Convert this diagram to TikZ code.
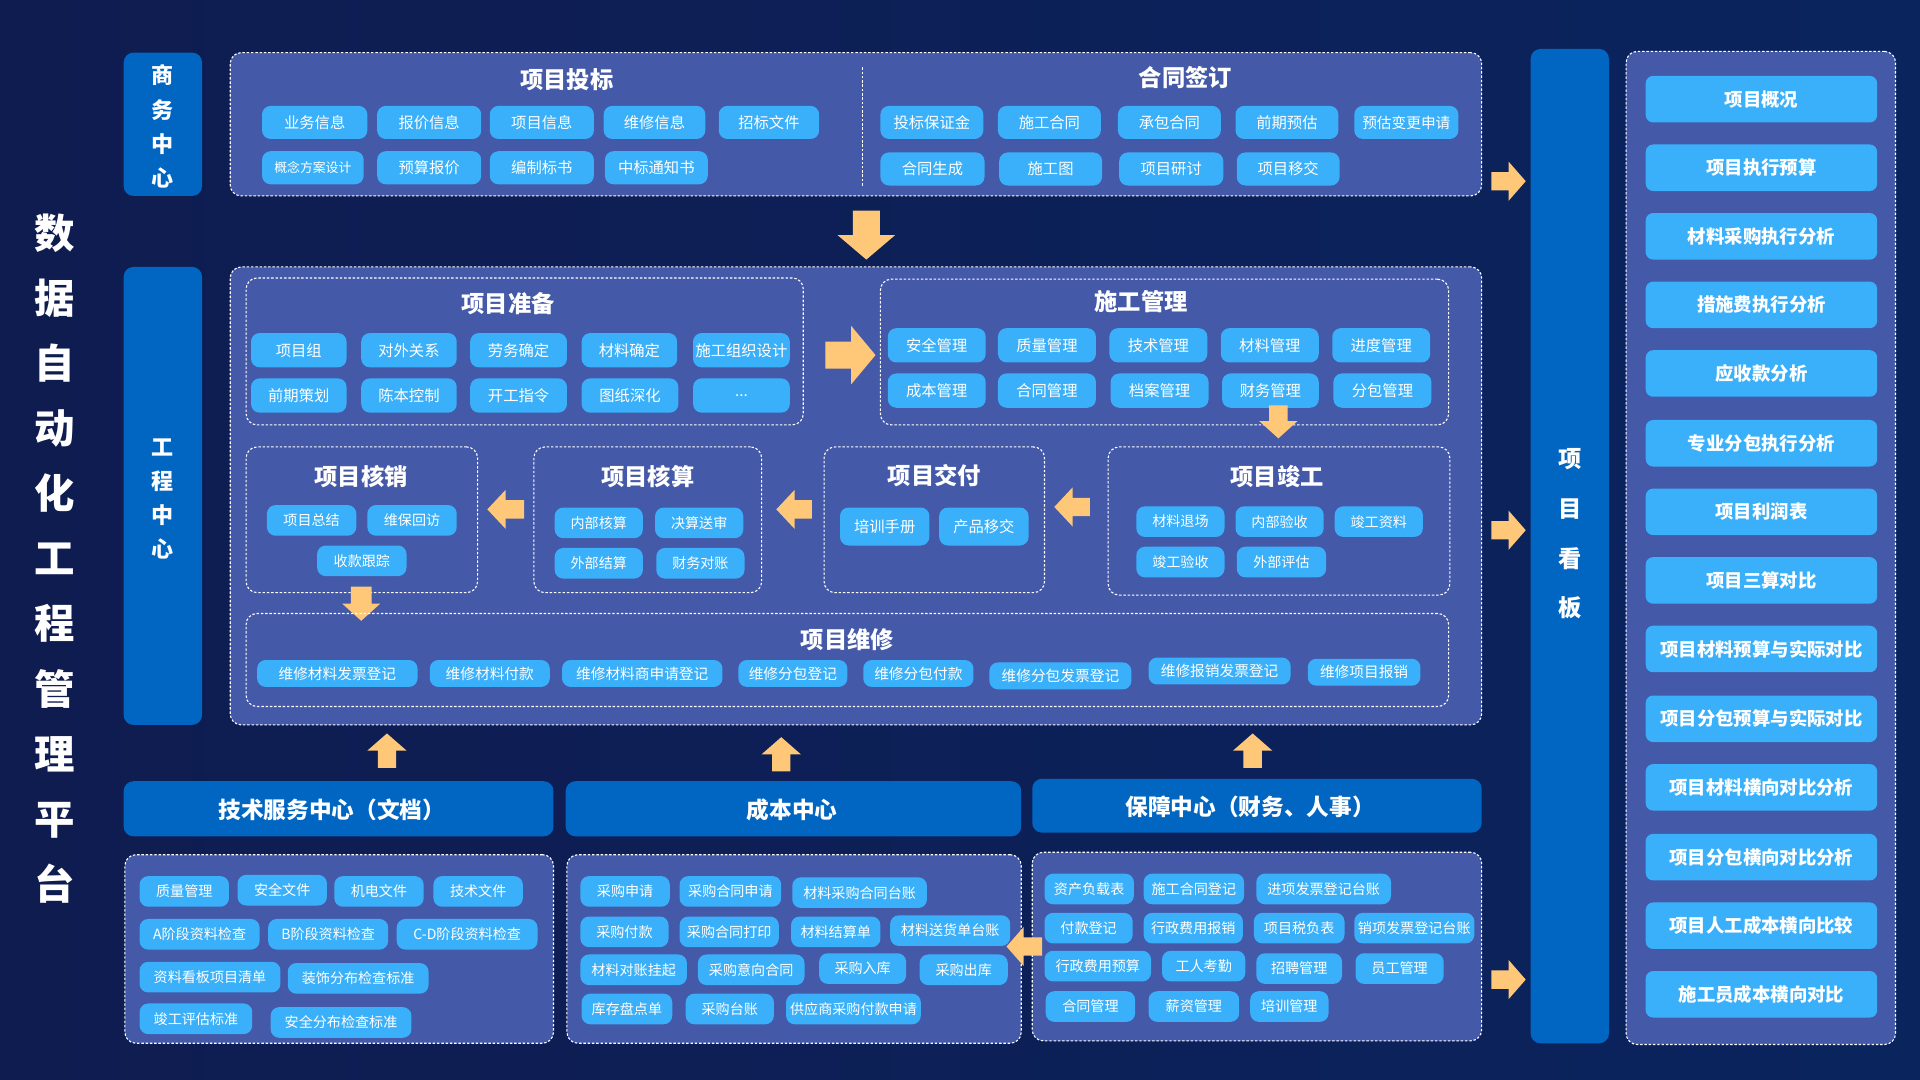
\documentclass[tikz,border=0pt]{standalone}
\usepackage{fontspec}
\setmainfont{Noto Sans CJK SC}
\usetikzlibrary{calc}
\definecolor{bgL}{HTML}{0F1C50}
\definecolor{bgM}{HTML}{0B3282}
\definecolor{bgR}{HTML}{0A245E}
\definecolor{panelc}{HTML}{4459A8}
\definecolor{pillc}{HTML}{3BB0FA}
\definecolor{barc}{HTML}{0066C2}
\definecolor{arrc}{HTML}{FFC878}
\tikzset{
  pill/.style={fill=pillc, rounded corners=7pt, text=white, inner sep=0pt, font=\fontsize{12.5}{13}\selectfont},
  spill/.style={font=\fontsize{11.5}{12}\selectfont},
  rpill/.style={font=\bfseries\fontsize{15}{16}\selectfont, rounded corners=6pt},
  panelbox/.style={fill=panelc, draw=white, line width=0.9pt, dash pattern=on 2pt off 1.5pt, rounded corners=9pt, inner sep=0pt},
  subbox/.style={draw=white, line width=0.9pt, dash pattern=on 2pt off 1.5pt, rounded corners=9pt, inner sep=0pt},
  bar/.style={fill=barc, rounded corners=8pt, inner sep=0pt},
  ttl/.style={text=white, font=\bfseries\fontsize{19}{19}\selectfont, inner sep=0pt},
  bartext/.style={text=white, font=\bfseries\fontsize{18.5}{19}\selectfont, inner sep=0pt},
  arr/.style={fill=arrc},
}
% pill: [opts]{name}{x1}{x2}{cy}{h}{text}
\newcommand\pl[7][]{\node[pill,#1,minimum width={#4-#3},minimum height=#6] (#2) at ({(#3+#4)/2},#5) {#7};}
% panel: [style]{name}{x1}{y1}{x2}{y2}
\newcommand\pan[6][panelbox]{\node[#1,minimum width={#5-#3},minimum height={#6-#4}] (#2) at ({(#3+#5)/2},{(#4+#6)/2}) {};}
% arrows: cx/cy, tail, tip, shaft width, head width, head length
\newcommand\arD[6]{\fill[arr] ({#1-#4/2},#2) -- ({#1+#4/2},#2) -- ({#1+#4/2},{#3-#6}) -- ({#1+#5/2},{#3-#6}) -- (#1,#3) -- ({#1-#5/2},{#3-#6}) -- ({#1-#4/2},{#3-#6}) -- cycle;}
\newcommand\arU[6]{\fill[arr] ({#1-#4/2},#2) -- ({#1+#4/2},#2) -- ({#1+#4/2},{#3+#6}) -- ({#1+#5/2},{#3+#6}) -- (#1,#3) -- ({#1-#5/2},{#3+#6}) -- ({#1-#4/2},{#3+#6}) -- cycle;}
\newcommand\arR[6]{\fill[arr] (#2,{#1-#4/2}) -- (#2,{#1+#4/2}) -- ({#3-#6},{#1+#4/2}) -- ({#3-#6},{#1+#5/2}) -- (#3,#1) -- ({#3-#6},{#1-#5/2}) -- ({#3-#6},{#1-#4/2}) -- cycle;}
\newcommand\arL[6]{\fill[arr] (#2,{#1-#4/2}) -- (#2,{#1+#4/2}) -- ({#3+#6},{#1+#4/2}) -- ({#3+#6},{#1+#5/2}) -- (#3,#1) -- ({#3+#6},{#1-#5/2}) -- ({#3+#6},{#1-#4/2}) -- cycle;}
\begin{document}
\begin{tikzpicture}[x=1pt,y=-1pt]
\useasboundingbox (0,0) rectangle (1568,882);
\fill[left color=bgL, middle color=bgM, right color=bgR] (0,0) rectangle (1568,882);

% main title
\node[text=white, font=\bfseries\fontsize{33}{53.2}\selectfont, align=center, inner sep=0pt] (title) at (45,456)
  {数\\据\\自\\动\\化\\工\\程\\管\\理\\平\\台};

% side bars
\pan[bar]{busbar}{101}{43}{165}{160}
\node[bartext, align=center, font=\bfseries\fontsize{18}{28}\selectfont] (bustxt) at (133,103.5) {商\\务\\中\\心};
\pan[bar]{engbar}{101}{218}{165}{592}
\node[bartext, align=center, font=\bfseries\fontsize{18}{28}\selectfont] (engtxt) at (133,407.5) {工\\程\\中\\心};

% ===== top panel =====
\pan{top}{188}{43}{1210}{160}
\draw[white, line width=0.9pt, dash pattern=on 2pt off 1.5pt] (704,55) -- (704,152);
\node[ttl] (tbid) at (463,65) {项目投标};
\node[ttl] (tcon) at (968,63) {合同签订};
\pl{b1}{214}{300}{100}{27}{业务信息}
\pl{b2}{308}{393}{100}{27}{报价信息}
\pl{b3}{400}{485}{100}{27}{项目信息}
\pl{b4}{493}{576}{100}{27}{维修信息}
\pl{b5}{587}{669}{100}{27}{招标文件}
\pl[font=\fontsize{10.5}{11}\selectfont]{b6}{214}{297}{137}{27}{概念方案设计}
\pl{b7}{308}{393}{137}{27}{预算报价}
\pl{b8}{400}{485}{137}{27}{编制标书}
\pl{b9}{494}{578}{137}{27}{中标通知书}
\pl{c1}{719}{803}{100}{27}{投标保证金}
\pl{c2}{815}{899}{100}{27}{施工合同}
\pl{c3}{913}{997}{100}{27}{承包合同}
\pl{c4}{1009}{1093}{100}{27}{前期预估}
\pl[font=\fontsize{12}{12}\selectfont]{c5}{1106}{1191}{100}{27}{预估变更申请}
\pl{c6}{719}{804}{138}{27}{合同生成}
\pl{c7}{816}{900}{138}{27}{施工图}
\pl{c8}{914}{999}{138}{27}{项目研讨}
\pl{c9}{1010}{1094}{138}{27}{项目移交}

\arD{707.5}{172}{212}{22}{47}{20}
\arR{148}{1218}{1246}{15}{32}{14}

% ===== middle panel =====
\pan{mid}{188}{218}{1210}{592}

% 项目准备
\pan[subbox]{prep}{201}{227}{656}{347}
\node[ttl] (tprep) at (415,248) {项目准备};
\pl{p1}{205}{283}{286}{28}{项目组}
\pl{p2}{295}{373}{286}{28}{对外关系}
\pl{p3}{384}{463}{286}{28}{劳务确定}
\pl{p4}{475}{553}{286}{28}{材料确定}
\pl{p5}{566}{645}{286}{28}{施工组织设计}
\pl{p6}{205}{283}{323}{28}{前期策划}
\pl{p7}{295}{373}{323}{28}{陈本控制}
\pl{p8}{384}{463}{323}{28}{开工指令}
\pl{p9}{475}{554}{323}{28}{图纸深化}
\pl{p10}{566}{645}{323}{28}{...}

\arR{290}{674}{715}{22}{48}{20}

% 施工管理
\pan[subbox]{cons}{719}{228}{1183}{347}
\node[ttl] (tcons) at (932,246) {施工管理};
\pl{s1}{725}{805}{282}{28}{安全管理}
\pl{s2}{815}{895}{282}{28}{质量管理}
\pl{s3}{906}{986}{282}{28}{技术管理}
\pl{s4}{997}{1077}{282}{28}{材料管理}
\pl{s5}{1088}{1168}{282}{28}{进度管理}
\pl{s6}{725}{805}{319}{28}{成本管理}
\pl{s7}{815}{895}{319}{28}{合同管理}
\pl{s8}{907}{987}{319}{28}{档案管理}
\pl{s9}{998}{1077}{319}{28}{财务管理}
\pl{s10}{1089}{1169}{319}{28}{分包管理}

\arD{1044}{331}{358}{15}{31}{14}

% 项目核销
\pan[subbox]{hx}{201}{365}{390}{484}
\node[ttl] (thx) at (295,389) {项目核销};
\pl[spill]{h1}{218}{291}{425}{25}{项目总结}
\pl[spill]{h2}{300}{373}{425}{25}{维保回访}
\pl[spill]{h3}{259}{332}{458}{25}{收款跟踪}

% 项目核算
\pan[subbox]{hs}{436}{365}{622}{484}
\node[ttl] (ths) at (529,389) {项目核算};
\pl[spill]{k1}{453}{525}{427}{25}{内部核算}
\pl[spill]{k2}{535}{607}{427}{25}{决算送审}
\pl[spill]{k3}{453}{525}{460}{25}{外部结算}
\pl[spill]{k4}{536}{608}{460}{25}{财务对账}

% 项目交付
\pan[subbox]{jf}{673}{365}{853}{484}
\node[ttl] (tjf) at (763,388) {项目交付};
\pl{j1}{686}{759}{430}{31}{培训手册}
\pl{j2}{767}{840}{430}{31}{产品移交}

% 项目竣工
\pan[subbox]{jg}{905}{365}{1184}{486}
\node[ttl] (tjg) at (1043,389) {项目竣工};
\pl[spill]{g1}{928}{1000}{426}{25}{材料退场}
\pl[spill]{g2}{1009}{1081}{426}{25}{内部验收}
\pl[spill]{g3}{1090}{1162}{426}{25}{竣工资料}
\pl[spill]{g4}{928}{1000}{459}{25}{竣工验收}
\pl[spill]{g5}{1010}{1083}{459}{25}{外部评估}

\arL{416}{428}{398}{15}{32}{15}
\arL{416}{663}{634}{15}{32}{15}
\arL{414}{890}{861}{15}{32}{15}
\arD{295}{479}{507}{17}{31}{14}

% 项目维修
\pan[subbox]{wx}{201}{501}{1183}{577}
\node[ttl] (twx) at (692,522) {项目维修};
\pl[font=\fontsize{12}{12}\selectfont]{w1}{210}{341}{550}{22}{维修材料发票登记}
\pl[font=\fontsize{12}{12}\selectfont]{w2}{351}{449}{550}{22}{维修材料付款}
\pl[font=\fontsize{12}{12}\selectfont]{w3}{459}{590}{550}{22}{维修材料商申请登记}
\pl[font=\fontsize{12}{12}\selectfont]{w4}{603}{692}{550}{22}{维修分包登记}
\pl[font=\fontsize{12}{12}\selectfont]{w5}{705}{795}{550}{22}{维修分包付款}
\pl[font=\fontsize{12}{12}\selectfont]{w6}{808}{924}{552}{22}{维修分包发票登记}
\pl[font=\fontsize{12}{12}\selectfont]{w7}{938}{1054}{548}{22}{维修报销发票登记}
\pl[font=\fontsize{12}{12}\selectfont]{w8}{1068}{1160}{549}{22}{维修项目报销}

% up arrows
\arU{316}{627}{599}{15}{32}{14}
\arU{638}{630}{602}{15}{32}{14}
\arU{1023}{627}{599}{15}{32}{14}

% ===== bottom bars =====
\pan[bar]{techbar}{101}{638}{452}{683}
\node[bartext] (techtxt) at (271,661) {技术服务中心（文档）};
\pan[bar]{costbar}{462}{638}{834}{683}
\node[bartext] (costtxt) at (647,661) {成本中心};
\pan[bar]{supbar}{843}{636}{1210}{680}
\node[bartext] (suptxt) at (1021,659) {保障中心（财务、人事）};

% ===== bottom panels =====
\pan{techp}{102}{698}{452}{852}
\pl[spill]{t1}{114}{187}{728}{25}{质量管理}
\pl[spill]{t2}{194}{267}{727}{25}{安全文件}
\pl[spill]{t3}{273}{346}{728}{25}{机电文件}
\pl[spill]{t4}{354}{427}{728}{25}{技术文件}
\pl[spill]{t5}{114}{212}{763}{25}{A阶段资料检查}
\pl[spill]{t6}{219}{317}{763}{25}{B阶段资料检查}
\pl[spill]{t7}{324}{439}{763}{25}{C-D阶段资料检查}
\pl[spill]{t8}{114}{229}{798}{25}{资料看板项目清单}
\pl[spill]{t9}{235}{350}{799}{25}{装饰分布检查标准}
\pl[spill]{t10}{114}{206}{832}{25}{竣工评估标准}
\pl[spill]{t11}{221}{336}{835}{25}{安全分布检查标准}

\pan{costp}{463}{698}{834}{852}
\pl[spill]{m1}{474}{547}{728}{25}{采购申请}
\pl[spill]{m2}{555}{638}{728}{25}{采购合同申请}
\pl[spill]{m3}{647}{757}{729}{25}{材料采购合同台账}
\pl[spill]{m4}{474}{546}{761}{25}{采购付款}
\pl[spill]{m5}{555}{636}{761}{25}{采购合同打印}
\pl[spill]{m6}{646}{719}{761}{25}{材料结算单}
\pl[spill]{m7}{727}{825}{760}{25}{材料送货单台账}
\pl[spill]{m8}{474}{561}{792}{25}{材料对账挂起}
\pl[spill]{m9}{570}{657}{792}{25}{采购意向合同}
\pl[spill]{m10}{669}{740}{791}{25}{采购入库}
\pl[spill]{m11}{751}{823}{792}{25}{采购出库}
\pl[spill]{m12}{475}{549}{824}{25}{库存盘点单}
\pl[spill]{m13}{560}{632}{824}{25}{采购台账}
\pl[spill]{m14}{642}{752}{824}{25}{供应商采购付款申请}

\pan{supp}{843}{696}{1210}{850}
\pl[spill]{q1}{853}{926}{726}{25}{资产负载表}
\pl[spill]{q2}{934}{1016}{726}{25}{施工合同登记}
\pl[spill]{q3}{1026}{1136}{726}{25}{进项发票登记台账}
\pl[spill]{q4}{853}{925}{758}{25}{付款登记}
\pl[spill]{q5}{934}{1015}{758}{25}{行政费用报销}
\pl[spill]{q6}{1024}{1098}{758}{25}{项目税负表}
\pl[spill]{q7}{1106}{1204}{758}{25}{销项发票登记台账}
\pl[spill]{q8}{853}{940}{789}{25}{行政费用预算}
\pl[spill]{q9}{949}{1017}{789}{25}{工人考勤}
\pl[spill]{q10}{1026}{1096}{791}{25}{招聘管理}
\pl[spill]{q11}{1107}{1179}{791}{25}{员工管理}
\pl[spill]{q12}{854}{927}{822}{25}{合同管理}
\pl[spill]{q13}{938}{1012}{822}{25}{薪资管理}
\pl[spill]{q14}{1021}{1085}{822}{25}{培训管理}

\arL{773}{851}{822}{15}{32}{14}
\arR{433}{1218}{1246}{15}{32}{14}
\arR{800}{1218}{1246}{15}{32}{14}

% ===== kanban bar =====
\pan[bar]{kbar}{1250}{40}{1314}{852}
\node[bartext, align=center, font=\bfseries\fontsize{19}{40.7}\selectfont] (ktxt) at (1282,436) {项\\目\\看\\板};

% ===== right column =====
\pan{rcol}{1328}{42}{1548}{853}
\pl[rpill]{r1}{1344}{1533}{81}{38}{项目概况}
\pl[rpill]{r2}{1344}{1533}{137}{38}{项目执行预算}
\pl[rpill]{r3}{1344}{1533}{193}{38}{材料采购执行分析}
\pl[rpill]{r4}{1344}{1533}{249}{38}{措施费执行分析}
\pl[rpill]{r5}{1344}{1533}{305}{38}{应收款分析}
\pl[rpill]{r6}{1344}{1533}{362}{38}{专业分包执行分析}
\pl[rpill]{r7}{1344}{1533}{418}{38}{项目利润表}
\pl[rpill]{r8}{1344}{1533}{474}{38}{项目三算对比}
\pl[rpill]{r9}{1344}{1533}{530}{38}{项目材料预算与实际对比}
\pl[rpill]{r10}{1344}{1533}{587}{38}{项目分包预算与实际对比}
\pl[rpill]{r11}{1344}{1533}{643}{38}{项目材料横向对比分析}
\pl[rpill]{r12}{1344}{1533}{700}{38}{项目分包横向对比分析}
\pl[rpill]{r13}{1344}{1533}{756}{38}{项目人工成本横向比较}
\pl[rpill]{r14}{1344}{1533}{812}{38}{施工员成本横向对比}
\end{tikzpicture}
\end{document}
